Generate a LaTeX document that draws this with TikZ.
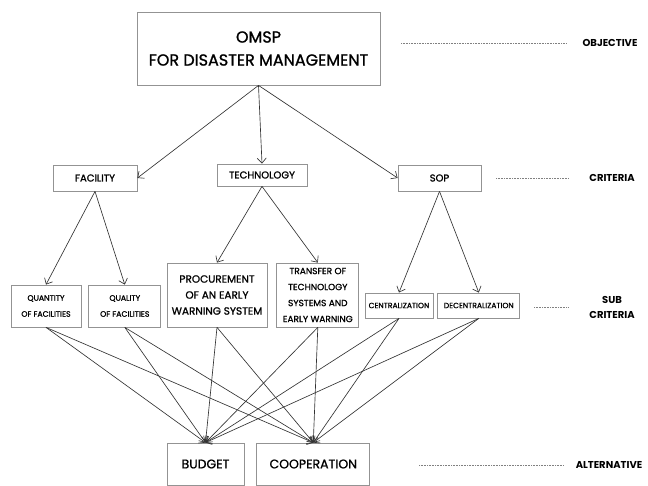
\documentclass[tikz,border=0pt]{standalone}
\usepackage{fontspec}
\setmainfont{Poppins}
\newfontfamily\boxfont{Poppins}[FakeBold=1.2]
\usetikzlibrary{
  calc,
  positioning,
  arrows.meta
}

\begin{document}
\begin{tikzpicture}[x=1pt,y=-1pt,>={Straight Barb[length=5pt,width=9pt]},
    box/.style={draw=gray!85,line width=0.8pt,align=center,inner sep=0pt},
    link/.style={->,draw=black!80,line width=0.65pt},
    level/.style={densely dotted,draw=gray,line width=0.6pt},
    tag/.style={font=\fontsize{10}{15}\selectfont\bfseries,align=center}]
      \useasboundingbox (0,0) rectangle (648,486);

      % boxes
      \node[box,minimum width=243pt,minimum height=73pt,font=\boxfont\fontsize{16}{23}\selectfont] (goal) at (258.5,48.5) {OMSP\\FOR DISASTER MANAGEMENT};

      \node[box,minimum width=84pt,minimum height=26pt,font=\boxfont\fontsize{10}{12}\selectfont] (fac) at (95,178) {FACILITY};
      \node[box,minimum width=90pt,minimum height=22pt,font=\boxfont\fontsize{10}{12}\selectfont] (tech) at (262,175) {TECHNOLOGY};
      \node[box,minimum width=83pt,minimum height=26pt,font=\boxfont\fontsize{10}{12}\selectfont] (sop) at (439.5,178) {SOP};

      \node[box,minimum width=70pt,minimum height=42pt,font=\boxfont\fontsize{7.8}{16}\selectfont] (quan) at (46,306) {QUANTITY\\OF FACILITIES};
      \node[box,minimum width=72pt,minimum height=42pt,font=\boxfont\fontsize{7.8}{16}\selectfont,right = 7pt of quan] (qual) {QUALITY\\OF FACILITIES};
      \node[box,minimum width=100pt,minimum height=64pt,font=\boxfont\fontsize{10.5}{16}\selectfont] (proc) at (217,295) {PROCUREMENT\\OF AN EARLY\\WARNING SYSTEM};
      \node[box,minimum width=82pt,minimum height=64pt,font=\boxfont\fontsize{9}{16}\selectfont,right = 9pt of proc] (trans) {TRANSFER OF\\TECHNOLOGY\\SYSTEMS AND\\EARLY WARNING};
      \node[box,minimum width=68pt,minimum height=25pt,font=\boxfont\fontsize{7.6}{10}\selectfont] (cent) at (399,305.5) {CENTRALIZATION};
      \node[box,minimum width=82pt,minimum height=25pt,font=\boxfont\fontsize{7.6}{10}\selectfont,right = 4pt of cent] (dec) {DECENTRALIZATION};

      \node[box,minimum width=77pt,minimum height=42pt,font=\boxfont\fontsize{12.5}{15}\selectfont] (bud) at (205.5,464) {BUDGET};
      \node[box,minimum width=113pt,minimum height=42pt,font=\boxfont\fontsize{12.5}{15}\selectfont,right = 12pt of bud] (coop) {COOPERATION};

      % levels
      \node[tag] (t1) at (610,43) {OBJECTIVE};
      \node[tag] (t2) at (612,178) {CRITERIA};
      \node[tag] (t3) at (612,307) {SUB\\CRITERIA};
      \node[tag] (t4) at (609,465) {ALTERNATIVE};
      \coordinate (d1) at (401,43);
      \coordinate (d2) at (496,178);
      \coordinate (d3) at (534,307);
      \coordinate (d4) at (419,465);
      \draw[level] (d1) -- ([xshift=-12pt]t1.west);
      \draw[level] (d2) -- ([xshift=-17pt]t2.west);
      \draw[level] (d3) -- ([xshift=-17pt]t3.west);
      \draw[level] (d4) -- ([xshift=-8pt]t4.west);

      % links
      \draw[link] (goal.south) -- (fac.east);
      \draw[link] (goal.south) -- (tech.north);
      \draw[link] (goal.south) -- (sop.west);
      \draw[link] (fac.south) -- (quan.north);
      \draw[link] (fac.south) -- (qual.north);
      \draw[link] (tech.south) -- (proc.north);
      \draw[link] (tech.south) -- (trans.north);
      \draw[link] (sop.south) -- (cent.north);
      \draw[link] (sop.south) -- (dec.north);
      \foreach \s in {quan,qual,proc,trans,cent,dec} {
        \draw[link] (\s.south) -- (bud.north);
        \draw[link] (\s.south) -- (coop.north);
      }
    \end{tikzpicture}
\end{document}
